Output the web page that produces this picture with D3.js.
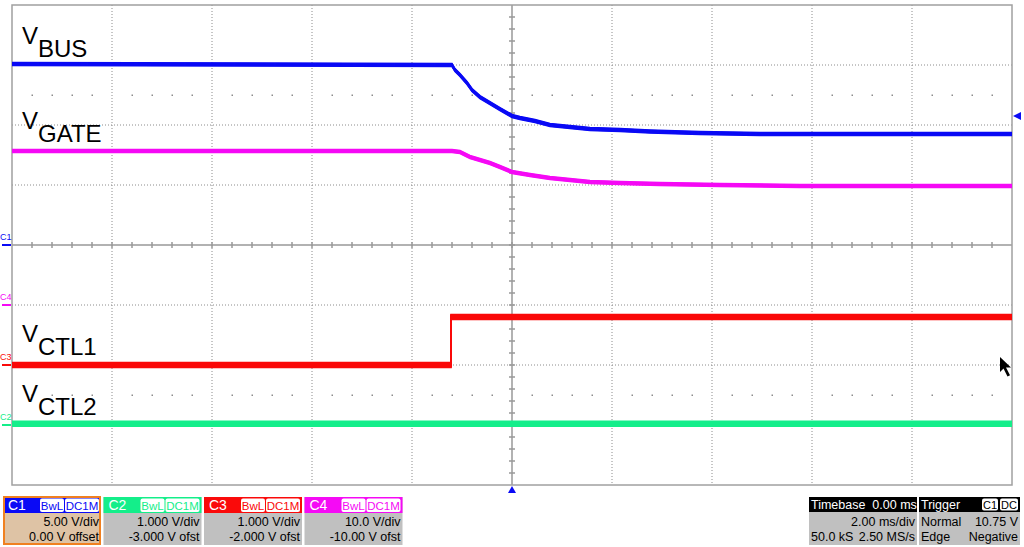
<!DOCTYPE html>
<html>
<head>
<meta charset="utf-8">
<script src="https://cdn.jsdelivr.net/npm/d3@7"></script>
<style>
  body { margin: 0; background: #fff; }
  svg { display: block; font-family: "Liberation Sans", Arial, sans-serif; }
</style>
</head>
<body>
<svg id="scope" width="1024" height="547"></svg>
<script>
// time in ms, values in volts
var busT  = [-10, -1.2, -1.14, -1.04, -0.9, -0.8, -0.64, -0.44, -0.24, 0, 0.16, 0.46, 0.76, 1.16, 1.56, 2.16, 2.76, 3.76, 4.96, 10];
var busV  = [15.08, 15.0, 14.58, 14.17, 13.5, 12.92, 12.33, 11.83, 11.33, 10.75, 10.58, 10.33, 10.0, 9.83, 9.67, 9.58, 9.46, 9.33, 9.25, 9.25];
var gateT = [-10, -1.2, -1.04, -0.84, -0.64, -0.44, -0.24, 0, 0.36, 0.76, 1.16, 1.56, 2.16, 2.96, 4.16, 5.76, 10];
var gateV = [25.67, 25.67, 25.5, 24.67, 24.17, 23.67, 23.0, 22.17, 21.67, 21.17, 20.83, 20.5, 20.33, 20.17, 20.0, 19.83, 19.83];
var ctl1T = [-10, -1.22, -1.22, 10];
var ctl1V = [0, 0, 0.8, 0.8];
var ctl2T = [-10, 10];
var ctl2V = [0.02, 0.02];

// channel settings: V/div and offset
var chNames   = ["C1", "C2", "C3", "C4"];
var chVdiv    = [5, 1, 1, 10];
var chOffset  = [0, -3, -2, -10];
var chColors  = ["#0a0af5", "#14ee8a", "#fa0a0a", "#f50af5"];
var chVdivTxt = ["5.00 V/div", "1.000 V/div", "1.000 V/div", "10.0 V/div"];
var chOfsTxt  = ["0.00 V offset", "-3.000 V ofst", "-2.000 V ofst", "-10.00 V ofst"];

var timeDomain = [-10, 10];
var trigLevel = 10.75;

var svg = d3.select("#scope");
var pLeft = 12, pRight = 1012, pTop = 5, pBottom = 485;
var x = d3.scaleLinear().domain(timeDomain).range([pLeft, pRight]);
var cx = (pLeft + pRight) / 2, cy = (pTop + pBottom) / 2;
var divW = (pRight - pLeft) / 10, divH = (pBottom - pTop) / 8;

function yFor(ch) {
	var v = chVdiv[ch], o = chOffset[ch];
	return d3.scaleLinear().domain([-4 * v - o, 4 * v - o]).range([pBottom, pTop]);
}

// grid
var grid = svg.append("g");
d3.range(1, 10).forEach(function(i) {
	if (i == 5) return;
	grid.append("line").attr("x1", pLeft + i * divW).attr("x2", pLeft + i * divW)
		.attr("y1", pTop).attr("y2", pBottom)
		.attr("stroke", "#8c8c8c").attr("stroke-dasharray", "1,2");
});
d3.range(1, 8).forEach(function(i) {
	if (i == 4) return;
	grid.append("line").attr("x1", pLeft).attr("x2", pRight)
		.attr("y1", pTop + i * divH).attr("y2", pTop + i * divH)
		.attr("stroke", "#8c8c8c").attr("stroke-dasharray", "1,2");
});
// mid-division dot rows
[cy - 2.5 * divH, cy + 2.5 * divH].forEach(function(yy) {
	d3.range(pLeft + 20, pRight, 20).forEach(function(xx) {
		if ((xx - pLeft) % divW == 0) return;
		grid.append("rect").attr("x", xx - 0.5).attr("y", yy - 0.5)
			.attr("width", 1.5).attr("height", 1.5).attr("fill", "#8c8c8c");
	});
});
// center axes with ticks
grid.append("line").attr("x1", cx).attr("x2", cx).attr("y1", pTop).attr("y2", pBottom)
	.attr("stroke", "#999").attr("stroke-width", 1.5);
grid.append("line").attr("x1", pLeft).attr("x2", pRight).attr("y1", cy).attr("y2", cy)
	.attr("stroke", "#999").attr("stroke-width", 1.5);
d3.range(pTop + 12, pBottom, 12).forEach(function(yy) {
	grid.append("line").attr("x1", cx - 3).attr("x2", cx + 3).attr("y1", yy).attr("y2", yy)
		.attr("stroke", "#999").attr("stroke-width", 1.5);
});
d3.range(pLeft + 20, pRight, 20).forEach(function(xx) {
	grid.append("line").attr("x1", xx).attr("x2", xx).attr("y1", cy - 3).attr("y2", cy + 3)
		.attr("stroke", "#999").attr("stroke-width", 1.5);
});
grid.append("rect").attr("x", pLeft).attr("y", pTop)
	.attr("width", pRight - pLeft).attr("height", pBottom - pTop)
	.attr("fill", "none").attr("stroke", "#a0a0a0").attr("stroke-width", 1.5);

// traces, drawn as a band (several passes shifted vertically)
function drawTrace(ts, vs, ch, half) {
	var y = yFor(ch);
	var pts = ts.map(function(t, i) { return [t, vs[i]]; });
	var line = d3.line().x(function(d) { return x(d[0]); }).y(function(d) { return y(d[1]); });
	var g = svg.append("g");
	d3.range(-half, half + 0.01, 0.5).forEach(function(dy) {
		g.append("path").attr("d", line(pts))
			.attr("transform", "translate(0," + dy + ")")
			.attr("fill", "none").attr("stroke", chColors[ch]).attr("stroke-width", 1.5);
	});
}
drawTrace(ctl2T, ctl2V, 1, 2.5);
drawTrace(ctl1T, ctl1V, 2, 2.5);
drawTrace(gateT, gateV, 3, 1.5);
drawTrace(busT, busV, 0, 1.5);

// trace labels
function label(main, sub, yb) {
	var t = svg.append("text").attr("x", 22).attr("y", yb)
		.attr("font-size", 24).attr("fill", "#000");
	t.append("tspan").text(main);
	t.append("tspan").attr("dy", 13).text(sub);
}
label("V", "BUS", 44);
label("V", "GATE", 129);
label("V", "CTL1", 342);
label("V", "CTL2", 402);

// ground markers on the left
chNames.forEach(function(n, ch) {
	var gy = yFor(ch)(0);
	svg.append("text").attr("x", 0).attr("y", gy - 5).attr("font-size", 9)
		.attr("fill", chColors[ch]).text(n);
	svg.append("line").attr("x1", 2).attr("x2", 11).attr("y1", gy).attr("y2", gy)
		.attr("stroke", chColors[ch]).attr("stroke-width", 2);
});

// trigger markers
var ty = yFor(0)(trigLevel);
svg.append("path").attr("d", "M" + (pRight + 1) + "," + ty + "l8,-4l0,8z").attr("fill", chColors[0]);
svg.append("path").attr("d", "M" + x(0) + "," + (pBottom + 1) + "l-4,7l8,0z").attr("fill", chColors[0]);

// mouse pointer
svg.append("path")
	.attr("d", "M1000,357 l0,15 l3.5,-3.5 l4,8 l2.5,-1.2 l-4,-7.8 l5,0 z")
	.attr("fill", "#000");

// channel descriptor boxes
var boxY = 497, headH = 16, boxH = 48;
chNames.forEach(function(n, ch) {
	var bx = 3 + ch * 100.5, bw = 98;
	var g = svg.append("g").attr("transform", "translate(" + bx + "," + boxY + ")");
	g.append("rect").attr("width", bw).attr("height", boxH)
		.attr("fill", ch == 0 ? "#dec3a5" : "#c0c0c0");
	g.append("rect").attr("width", bw).attr("height", headH).attr("fill", chColors[ch]);
	if (ch == 0) {
		g.append("rect").attr("x", 1).attr("y", 0).attr("width", bw - 2).attr("height", boxH - 1)
			.attr("fill", "none").attr("stroke", "#f08020").attr("stroke-width", 2);
	}
	g.append("text").attr("x", 5).attr("y", 13).attr("font-size", 14)
		.attr("fill", "#fff").text(n);
	[["BwL", 37, 24], ["DC1M", 62, 34]].forEach(function(b) {
		g.append("rect").attr("x", b[1]).attr("y", 1.5).attr("width", b[2]).attr("height", 13.5)
			.attr("rx", 2).attr("fill", "#fff");
		g.append("text").attr("x", b[1] + b[2] / 2).attr("y", 12.5).attr("font-size", 11.5)
			.attr("text-anchor", "middle").attr("fill", chColors[ch]).text(b[0]);
	});
	g.append("text").attr("x", bw - 2).attr("y", 29).attr("font-size", 12.5)
		.attr("text-anchor", "end").attr("fill", "#000").text(chVdivTxt[ch]);
	g.append("text").attr("x", bw - 2).attr("y", 44).attr("font-size", 12.5)
		.attr("text-anchor", "end").attr("fill", "#000").text(chOfsTxt[ch]);
});

// timebase box
var tb = svg.append("g").attr("transform", "translate(809," + boxY + ")");
tb.append("rect").attr("width", 108).attr("height", boxH).attr("fill", "#c0c0c0");
tb.append("rect").attr("width", 108).attr("height", 15).attr("fill", "#000");
tb.append("text").attr("x", 2).attr("y", 12).attr("font-size", 12.5).attr("fill", "#fff")
	.attr("xml:space", "preserve").text("Timebase  0.00 ms");
tb.append("text").attr("x", 106).attr("y", 29).attr("font-size", 12.5).attr("text-anchor", "end").text("2.00 ms/div");
tb.append("text").attr("x", 2).attr("y", 44).attr("font-size", 12.5).text("50.0 kS");
tb.append("text").attr("x", 106).attr("y", 44).attr("font-size", 12.5).attr("text-anchor", "end").text("2.50 MS/s");

// trigger box
var tr = svg.append("g").attr("transform", "translate(919," + boxY + ")");
tr.append("rect").attr("width", 101).attr("height", boxH).attr("fill", "#c0c0c0");
tr.append("rect").attr("width", 101).attr("height", 15).attr("fill", "#000");
tr.append("text").attr("x", 2).attr("y", 12).attr("font-size", 12.5).attr("fill", "#fff").text("Trigger");
[["C1", 63, 16], ["DC", 81, 18]].forEach(function(b) {
	tr.append("rect").attr("x", b[1]).attr("y", 1.5).attr("width", b[2]).attr("height", 12)
		.attr("rx", 2).attr("fill", "#fff");
	tr.append("text").attr("x", b[1] + b[2] / 2).attr("y", 11.5).attr("font-size", 11)
		.attr("text-anchor", "middle").attr("fill", "#000").text(b[0]);
});
tr.append("text").attr("x", 2).attr("y", 29).attr("font-size", 12.5).text("Normal");
tr.append("text").attr("x", 99).attr("y", 29).attr("font-size", 12.5).attr("text-anchor", "end").text("10.75 V");
tr.append("text").attr("x", 2).attr("y", 44).attr("font-size", 12.5).text("Edge");
tr.append("text").attr("x", 99).attr("y", 44).attr("font-size", 12.5).attr("text-anchor", "end").text("Negative");
</script>
</body>
</html>
